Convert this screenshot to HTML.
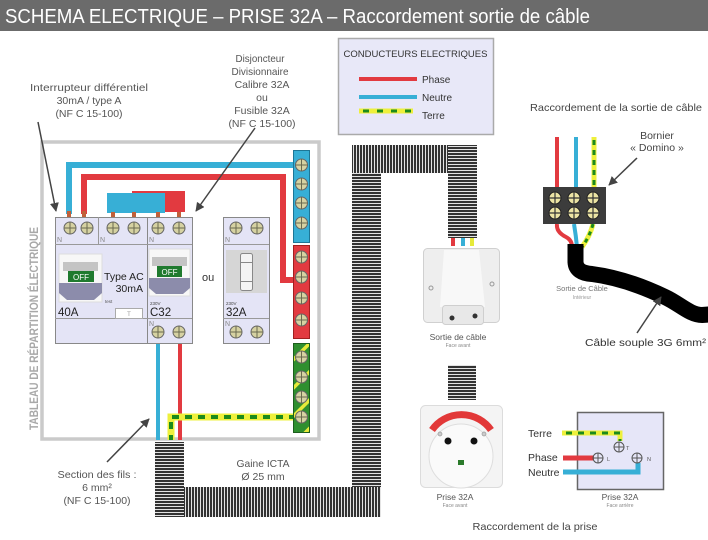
<!DOCTYPE html>
<html><head><meta charset="utf-8"><style>
html,body{margin:0;padding:0;background:#fff;}
svg{display:block;font-family:"Liberation Sans",sans-serif;}
</style></head><body>
<svg width="708" height="540" viewBox="0 0 708 540" xmlns="http://www.w3.org/2000/svg">
<defs>
<pattern id="hs" width="6" height="3" patternUnits="userSpaceOnUse"><rect width="6" height="3" fill="#e4e4e4"/><rect width="6" height="2" fill="#333"/></pattern>
<pattern id="vs" width="3" height="6" patternUnits="userSpaceOnUse"><rect width="3" height="6" fill="#e4e4e4"/><rect width="2" height="6" fill="#333"/></pattern>
<pattern id="gy" width="20" height="20" patternUnits="userSpaceOnUse" patternTransform="rotate(-45)"><rect width="20" height="20" fill="#2f8f2f"/><rect width="20" height="3.5" fill="#e6ea3a"/></pattern>
<marker id="ah" viewBox="0 0 10 10" refX="9" refY="5" markerWidth="6" markerHeight="6" orient="auto"><path d="M0 0 L10 5 L0 10 z" fill="#444"/></marker>
<g id="screw"><circle r="6" fill="#d6d2a2" stroke="#666" stroke-width="1"/><path d="M-6 0H6M0 -6V6" stroke="#6a6a50" stroke-width="1"/></g>
<g id="dscrew"><circle r="6" fill="#ece4a4" stroke="#222" stroke-width="1"/><path d="M-6 0H6M0 -6V6" stroke="#333" stroke-width="1.2"/></g>
<g id="rscrew"><circle r="5" fill="none" stroke="#555" stroke-width="1"/><path d="M-5 0H5M0 -5V5" stroke="#555" stroke-width="1"/></g>
</defs>

<!-- Header -->
<rect x="0" y="0" width="708" height="31" fill="#6b6b6b"/>
<text x="5" y="23" font-size="20" fill="#fff" textLength="585" lengthAdjust="spacingAndGlyphs">SCHEMA ELECTRIQUE – PRISE 32A – Raccordement sortie de câble</text>

<!-- Legend -->
<rect x="338.5" y="38.5" width="155" height="96" fill="#e8e8f8" stroke="#aaa" stroke-width="1.5"/>
<text x="415.5" y="57" font-size="9.5" fill="#333" text-anchor="middle" textLength="144" lengthAdjust="spacingAndGlyphs">CONDUCTEURS ELECTRIQUES</text>
<line x1="359" y1="79" x2="417" y2="79" stroke="#e23a40" stroke-width="4"/>
<text x="422" y="83" font-size="10" fill="#333">Phase</text>
<line x1="359" y1="97" x2="417" y2="97" stroke="#37afd6" stroke-width="4"/>
<text x="422" y="101" font-size="10" fill="#333">Neutre</text>
<line x1="359" y1="111" x2="413" y2="111" stroke="#eef03c" stroke-width="5"/>
<line x1="363" y1="111" x2="413" y2="111" stroke="#1c8a1c" stroke-width="3" stroke-dasharray="6 8"/>
<text x="422" y="119" font-size="10" fill="#333">Terre</text>

<!-- Left labels -->
<g font-size="10.5" fill="#555" text-anchor="middle">
<text x="89" y="91" textLength="118" lengthAdjust="spacingAndGlyphs">Interrupteur différentiel</text>
<text x="89" y="104">30mA / type A</text>
<text x="89" y="117">(NF C 15-100)</text>
<text x="260" y="62" textLength="49" lengthAdjust="spacingAndGlyphs">Disjoncteur</text>
<text x="260" y="75" textLength="57" lengthAdjust="spacingAndGlyphs">Divisionnaire</text>
<text x="262" y="88">Calibre 32A</text>
<text x="262" y="101">ou</text>
<text x="262" y="114">Fusible 32A</text>
<text x="262" y="127">(NF C 15-100)</text>
</g>

<!-- Panel -->
<rect x="42" y="142" width="277" height="297" fill="none" stroke="#cacaca" stroke-width="3.5"/>
<text transform="translate(38,430) rotate(-90)" font-size="11.5" font-weight="bold" fill="#a8a8a8" textLength="203" lengthAdjust="spacingAndGlyphs">TABLEAU  DE RÉPARTITION ÉLECTRIQUE</text>

<!-- Wires in panel -->
<path d="M69 214 V165 H296" fill="none" stroke="#37afd6" stroke-width="6"/>
<path d="M84 214 V177 H283 V280 H296" fill="none" stroke="#e23a40" stroke-width="6"/>
<line x1="158" y1="343" x2="158" y2="440" stroke="#37afd6" stroke-width="4"/>
<line x1="180" y1="343" x2="180" y2="440" stroke="#e23a40" stroke-width="4"/>
<path d="M296 417 H171 V440" fill="none" stroke="#eef03c" stroke-width="7"/>
<path d="M296 417 H171 V440" fill="none" stroke="#1c8a1c" stroke-width="4" stroke-dasharray="7 6"/>

<!-- Bridge -->
<rect x="132" y="191" width="53" height="21" fill="#e23a40"/>
<rect x="107" y="193" width="58" height="20" fill="#37afd6"/>
<g fill="#c0603a">
<rect x="67" y="211" width="4" height="7"/><rect x="82" y="211" width="4" height="7"/>
<rect x="111" y="212" width="4" height="6"/><rect x="132" y="212" width="4" height="6"/>
<rect x="156" y="212" width="4" height="6"/><rect x="177" y="212" width="4" height="6"/>
</g>

<!-- Modules -->
<g stroke="#888" fill="#e4e4f6">
<rect x="55.5" y="217.5" width="92" height="126"/>
<rect x="147.5" y="217.5" width="45" height="126"/>
<rect x="223.5" y="217.5" width="46" height="126"/>
</g>
<g stroke="#999" stroke-width="1">
<line x1="55" y1="244.5" x2="192" y2="244.5"/>
<line x1="98.5" y1="217" x2="98.5" y2="244"/>
<line x1="55" y1="318.5" x2="192" y2="318.5"/>
<line x1="223" y1="244.5" x2="269" y2="244.5"/>
<line x1="223" y1="318.5" x2="269" y2="318.5"/>
</g>
<g font-size="7" fill="#888">
<text x="57" y="242">N</text><text x="100" y="242">N</text><text x="149" y="242">N</text><text x="225" y="242">N</text>
<text x="149" y="326">N</text><text x="225" y="326">N</text>
</g>
<!-- diff window -->
<rect x="59" y="254" width="43" height="48" fill="#f7f7f7" stroke="#ddd"/>
<rect x="63" y="262" width="35" height="9" fill="#c4c4c4"/>
<rect x="68" y="271" width="26" height="11" fill="#1f7a2e"/>
<text x="81" y="280" font-size="8" fill="#fff" text-anchor="middle">OFF</text>
<path d="M59 283H102V293L94 300H67L59 293Z" fill="#8c8cab"/>
<text x="104" y="280" font-size="10.5" fill="#222">Type AC</text>
<text x="143" y="292" font-size="10.5" fill="#222" text-anchor="end">30mA</text>
<text x="105" y="303" font-size="4.5" fill="#555">test</text>
<text x="58" y="316" font-size="11.5" fill="#222">40A</text>
<rect x="115.5" y="308.5" width="27" height="10" fill="#fff" stroke="#aaa"/>
<text x="129" y="316" font-size="6" fill="#999" text-anchor="middle">T</text>
<!-- disj window -->
<rect x="149" y="249" width="41" height="47" fill="#f7f7f7" stroke="#ddd"/>
<rect x="152" y="257" width="35" height="9" fill="#c4c4c4"/>
<rect x="157" y="266" width="25" height="11" fill="#1f7a2e"/>
<text x="169.5" y="275" font-size="8" fill="#fff" text-anchor="middle">OFF</text>
<path d="M149 278H190V288L183 294H156L149 288Z" fill="#8c8cab"/>
<text x="150" y="305" font-size="4.5" fill="#444">230V</text>
<text x="150" y="316" font-size="11.5" fill="#222">C32</text>
<text x="202" y="281" font-size="11" fill="#333">ou</text>
<!-- fuse -->
<rect x="226" y="250" width="41" height="43" fill="#d6d6d6"/>
<rect x="240.5" y="253.5" width="12" height="37" rx="2" fill="#f4f4f4" stroke="#888"/>
<line x1="240" y1="262.5" x2="253" y2="262.5" stroke="#888"/>
<line x1="240" y1="281.5" x2="253" y2="281.5" stroke="#888"/>
<text x="226" y="305" font-size="4.5" fill="#444">230V</text>
<text x="226" y="316" font-size="11.5" fill="#222">32A</text>

<!-- module screws -->
<use href="#screw" x="70" y="228"/><use href="#screw" x="87" y="228"/>
<use href="#screw" x="113" y="228"/><use href="#screw" x="134" y="228"/>
<use href="#screw" x="158" y="228"/><use href="#screw" x="179" y="228"/>
<use href="#screw" x="236" y="228"/><use href="#screw" x="257" y="228"/>
<use href="#screw" x="158" y="332"/><use href="#screw" x="179" y="332"/>
<use href="#screw" x="236" y="332"/><use href="#screw" x="257" y="332"/>

<!-- bars -->
<rect x="293.5" y="150.5" width="16" height="92" fill="#37afd6" stroke="#1d7696"/>
<rect x="293.5" y="245.5" width="16" height="93" fill="#e23a40" stroke="#a02020"/>
<rect x="293.5" y="343.5" width="16" height="89" fill="url(#gy)" stroke="#1d5e1d"/>
<use href="#screw" x="301.5" y="165"/><use href="#screw" x="301.5" y="184"/>
<use href="#screw" x="301.5" y="203"/><use href="#screw" x="301.5" y="223"/>
<use href="#screw" x="301.5" y="257"/><use href="#screw" x="301.5" y="277"/>
<use href="#screw" x="301.5" y="298"/><use href="#screw" x="301.5" y="320"/>
<use href="#screw" x="301.5" y="357"/><use href="#screw" x="301.5" y="377"/>
<use href="#screw" x="301.5" y="397"/><use href="#screw" x="301.5" y="417"/>

<!-- arrows left -->
<g stroke="#444" stroke-width="1.5" fill="none">
<line x1="38" y1="122" x2="56" y2="211" marker-end="url(#ah)"/>
<line x1="255" y1="128" x2="196" y2="211" marker-end="url(#ah)"/>
<line x1="107" y1="462" x2="149" y2="419" marker-end="url(#ah)"/>
</g>

<!-- Conduit -->
<rect x="155" y="442" width="29" height="75" fill="url(#hs)"/>
<rect x="184" y="487" width="197" height="30" fill="url(#vs)"/>
<rect x="352" y="173" width="29" height="314" fill="url(#hs)"/>
<rect x="352" y="145" width="96" height="28" fill="url(#vs)"/>
<rect x="448" y="145" width="29" height="93" fill="url(#hs)"/>
<rect x="448" y="365" width="28" height="35" fill="url(#hs)"/>

<g font-size="10.5" fill="#555" text-anchor="middle">
<text x="263" y="467" textLength="53" lengthAdjust="spacingAndGlyphs">Gaine ICTA</text>
<text x="263" y="480">Ø 25 mm</text>
<text x="97" y="478" textLength="79" lengthAdjust="spacingAndGlyphs">Section des fils :</text>
<text x="97" y="491">6 mm²</text>
<text x="97" y="504">(NF C 15-100)</text>
</g>

<!-- Sortie de cable front -->
<rect x="451" y="238" width="4" height="8" fill="#e23a40"/>
<rect x="461" y="238" width="4" height="8" fill="#37afd6"/>
<rect x="470" y="238" width="4" height="8" fill="#e6ea3a"/>
<rect x="423.5" y="248.5" width="76" height="74" rx="4" fill="#eeeeee" stroke="#d0d0d0"/>
<path d="M444 250 L479 250 L485 307 L440 307 Z" fill="#f8f8f8"/>
<rect x="442.5" y="305.5" width="41" height="19" rx="3" fill="#e8e8e8" stroke="#cfcfcf"/>
<circle cx="452" cy="318" r="2.5" fill="#333"/>
<circle cx="475" cy="316" r="2.5" fill="#333"/>
<circle cx="431" cy="288" r="2" fill="none" stroke="#999"/>
<circle cx="492" cy="284" r="2" fill="none" stroke="#999"/>
<text x="458" y="340" font-size="8.5" fill="#555" text-anchor="middle">Sortie de câble</text>
<text x="458" y="347" font-size="5" fill="#888" text-anchor="middle">Face avant</text>

<!-- Prise front -->
<rect x="420.5" y="405.5" width="82" height="82" rx="5" fill="#f4f4f4" stroke="#dcdcdc"/>
<circle cx="461" cy="456" r="32" fill="#fafafa" stroke="#dedede"/>
<path d="M432 430 A36 36 0 0 1 491 430" fill="none" stroke="#e23838" stroke-width="7"/>
<circle cx="448" cy="441" r="3.5" fill="#111"/>
<circle cx="474" cy="441" r="3.5" fill="#111"/>
<rect x="458" y="460" width="6" height="5" fill="#2a7a2a"/>
<circle cx="440" cy="434" r="2" fill="#ccc" stroke="#999" stroke-width="0.7"/>
<circle cx="484" cy="434" r="2" fill="#ccc" stroke="#999" stroke-width="0.7"/>
<text x="455" y="500" font-size="8.5" fill="#555" text-anchor="middle">Prise 32A</text>
<text x="455" y="507" font-size="5" fill="#888" text-anchor="middle">Face avant</text>

<!-- Prise rear -->
<rect x="577.5" y="412.5" width="86" height="77" fill="#e6e6f8" stroke="#666" stroke-width="1.5"/>
<path d="M562 433 H620 V441" fill="none" stroke="#eef03c" stroke-width="5"/>
<path d="M566 433 H620 V441" fill="none" stroke="#1c8a1c" stroke-width="3" stroke-dasharray="6 6"/>
<line x1="563" y1="458" x2="594" y2="458" stroke="#e23a40" stroke-width="5"/>
<path d="M563 472 H638 V463" fill="none" stroke="#37afd6" stroke-width="5"/>
<use href="#rscrew" x="619" y="447"/>
<use href="#rscrew" x="598" y="458"/>
<use href="#rscrew" x="637" y="458"/>
<g font-size="5.5" fill="#555"><text x="626" y="450">T</text><text x="607" y="461">L</text><text x="647" y="461">N</text></g>
<g font-size="10.5" fill="#333">
<text x="528" y="437">Terre</text>
<text x="528" y="461">Phase</text>
<text x="528" y="476">Neutre</text>
</g>
<text x="620" y="500" font-size="8.5" fill="#555" text-anchor="middle">Prise 32A</text>
<text x="620" y="507" font-size="5" fill="#888" text-anchor="middle">Face arrière</text>
<text x="535" y="530" font-size="10.5" fill="#444" text-anchor="middle" textLength="125" lengthAdjust="spacingAndGlyphs">Raccordement  de la prise</text>

<!-- Right: sortie de cable connection -->
<text x="616" y="111" font-size="10.5" fill="#444" text-anchor="middle" textLength="172" lengthAdjust="spacingAndGlyphs">Raccordement  de la sortie de câble</text>
<line x1="557" y1="137" x2="557" y2="188" stroke="#e23a40" stroke-width="4"/>
<line x1="576" y1="137" x2="576" y2="188" stroke="#37afd6" stroke-width="4"/>
<line x1="594" y1="137" x2="594" y2="188" stroke="#eef03c" stroke-width="5"/>
<line x1="594" y1="140" x2="594" y2="188" stroke="#1c8a1c" stroke-width="3" stroke-dasharray="5 5"/>
<path d="M557 224 Q556 232 566 237 Q572 240 572 247" fill="none" stroke="#e23a40" stroke-width="4"/>
<path d="M574 224 Q576 236 577 247" fill="none" stroke="#37afd6" stroke-width="4"/>
<path d="M593 224 Q590 236 582 247" fill="none" stroke="#eef03c" stroke-width="5"/>
<path d="M593 224 Q590 236 582 247" fill="none" stroke="#1c8a1c" stroke-width="3" stroke-dasharray="4 4"/>
<rect x="543" y="187" width="63" height="37" fill="#3c3c3c"/>
<use href="#dscrew" x="555" y="198"/><use href="#dscrew" x="574" y="198"/><use href="#dscrew" x="593" y="198"/>
<use href="#dscrew" x="555" y="213"/><use href="#dscrew" x="574" y="213"/><use href="#dscrew" x="593" y="213"/>
<path d="M575.5 244 V262 Q576 273 592 274 C615 277 640 285 665 297 C680 304 690 315 702 315 L716 314" fill="none" stroke="#000" stroke-width="16" stroke-linejoin="round"/>
<g font-size="10.5" fill="#444" text-anchor="middle">
<text x="657" y="139">Bornier</text>
<text x="657" y="151">« Domino »</text>
</g>
<text x="582" y="291" font-size="7.5" fill="#777" text-anchor="middle">Sortie de Câble</text>
<text x="582" y="299" font-size="5" fill="#999" text-anchor="middle">Intérieur</text>
<text x="585" y="346" font-size="10.5" fill="#333" textLength="121" lengthAdjust="spacingAndGlyphs">Câble souple 3G 6mm²</text>
<g stroke="#444" stroke-width="1.5" fill="none">
<line x1="637" y1="158" x2="609" y2="185" marker-end="url(#ah)"/>
<line x1="637" y1="333" x2="661" y2="297" marker-end="url(#ah)"/>
</g>
</svg>
</body></html>
